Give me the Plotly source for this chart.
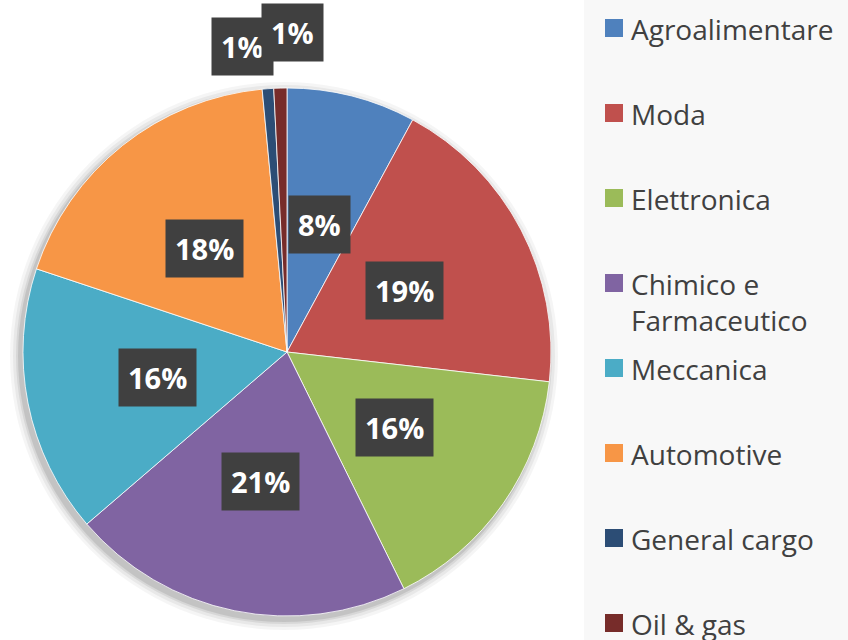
import math
import plotly.graph_objects as go

categories = ["Agroalimentare", "Moda", "Elettronica", "Chimico e Farmaceutico",
              "Meccanica", "Automotive", "General cargo", "Oil & gas"]
values = [7.9, 18.9, 15.9, 21.0, 16.4, 18.4, 0.7, 0.8]
legend_text = ["Agroalimentare", "Moda", "Elettronica", "Chimico e<br>Farmaceutico",
               "Meccanica", "Automotive", "General cargo", "Oil &amp; gas"]
colors = ["#4F81BD", "#C0504D", "#9BBB59", "#8064A2",
          "#4BACC6", "#F79646", "#2C4D75", "#772C2A"]

W, H = 848, 640
CX, CY, R = 287, 352, 264  # pie centre / radius in px

fig = go.Figure()
fig.add_trace(go.Pie(
    labels=categories, values=values, sort=False, direction="clockwise",
    rotation=0, marker=dict(colors=colors, line=dict(color="white", width=0.8)),
    textinfo="none", hoverinfo="label+percent", showlegend=False,
    domain=dict(x=[(CX - R) / W, (CX + R) / W], y=[1 - (CY + R) / H, 1 - (CY - R) / H]),
))

shapes = []
# legend panel background
shapes.append(dict(type="rect", xref="paper", yref="paper", x0=584 / W, x1=1, y0=0, y1=1,
                   fillcolor="#F8F8F8", line=dict(width=0), layer="below"))
# soft shadow behind pie
for k, op in [(10, 0.04), (7, 0.05), (4, 0.07), (2, 0.09)]:
    sx, sy = CX - 3, CY + 4
    shapes.append(dict(type="circle", xref="paper", yref="paper",
                       x0=(sx - R - k) / W, x1=(sx + R + k) / W,
                       y0=1 - (sy + R + k) / H, y1=1 - (sy - R - k) / H,
                       fillcolor="black", opacity=op, line=dict(width=0), layer="below"))

annotations = []
# data labels
total = sum(values)
cum = 0.0
label_r = [0.5, 0.5, 0.5, 0.5, 0.5, 0.5, 1.16, 1.21]
label_xshift = [0, 0, 0, 0, 0, 0, -22, 14]
for i, v in enumerate(values):
    mid = (cum + v / 2) / total * 2 * math.pi
    cum += v
    r = label_r[i] * R
    px = CX + r * math.sin(mid)
    py = CY - r * math.cos(mid)
    annotations.append(dict(
        x=px / W, y=1 - py / H, xref="paper", yref="paper",
        xanchor="center", yanchor="middle",
        text=f"<b>{round(v / total * 100):d}%</b>", showarrow=False,
        font=dict(family="Open Sans", size=29, color="white"),
        bgcolor="#404040", borderpad=9, xshift=label_xshift[i],
    ))

# manual legend
entry_y0, entry_dy = 28, 85
for i, (t, c) in enumerate(zip(legend_text, colors)):
    yc = entry_y0 + i * entry_dy
    shapes.append(dict(type="rect", xref="paper", yref="paper",
                       x0=605 / W, x1=623 / W, y0=1 - (yc + 9) / H, y1=1 - (yc - 9) / H,
                       fillcolor=c, line=dict(width=0)))
    annotations.append(dict(
        x=630 / W, y=1 - (yc - 19) / H, xref="paper", yref="paper",
        xanchor="left", yanchor="top", align="left", text=t, showarrow=False,
        font=dict(family="Open Sans", size=28, color="#404040"), borderpad=0,
    ))

fig.update_layout(
    width=W, height=H, margin=dict(l=0, r=0, t=0, b=0),
    paper_bgcolor="white", plot_bgcolor="white",
    shapes=shapes, annotations=annotations, showlegend=False,
)
fig.write_html("out.html", config={"displayModeBar": False},
               post_script="document.body.style.margin='0px';")
